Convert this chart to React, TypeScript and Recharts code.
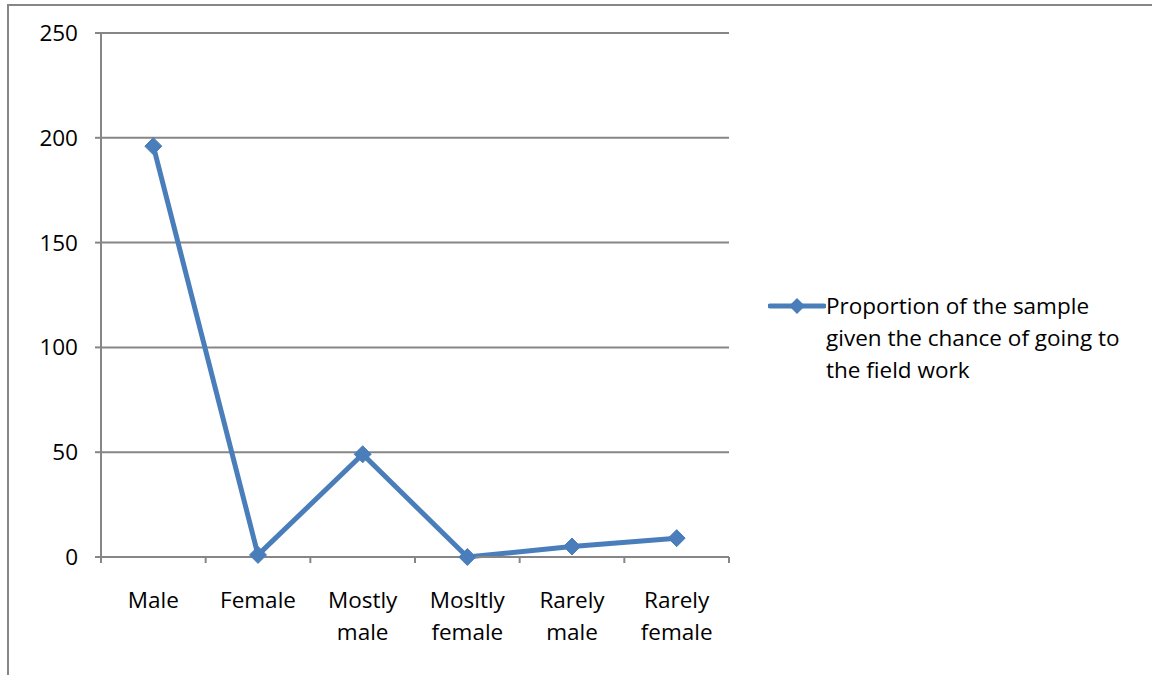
import { LineChart, Line, XAxis, YAxis, CartesianGrid, Legend } from 'recharts'

const categories = ['Male', 'Female', 'Mostly male', 'Mosltly female', 'Rarely male', 'Rarely female']
const values = [196, 1, 49, 0, 5, 9]
const yTicks = [0, 50, 100, 150, 200, 250]
const seriesName = 'Proportion of the sample given the chance of going to the field work'
const legendLines = ['Proportion of the sample', 'given the chance of going to', 'the field work']

const data = categories.map((c, i) => ({ category: c, value: values[i] }))

const BLUE = '#4a7ebb'
const GREY = '#868686'
const FONT = '"Open Sans", Lato, sans-serif'
const FS = 22.5

const Diamond = (props: any) => {
  const { cx, cy } = props
  if (cx == null || cy == null) return null
  const r = 8.5
  return (
    <polygon
      points={`${cx},${cy - r} ${cx + r},${cy} ${cx},${cy + r} ${cx - r},${cy}`}
      fill={BLUE}
      stroke={BLUE}
      strokeWidth={1}
    />
  )
}

const CategoryTick = (props: any) => {
  const { x, y, payload, index } = props
  const half = 628 / categories.length / 2
  const words = String(payload.value).split(' ')
  return (
    <g>
      <line x1={x - half} y1={y} x2={x - half} y2={y + 6} stroke={GREY} strokeWidth={2} />
      {index === categories.length - 1 && (
        <line x1={x + half} y1={y} x2={x + half} y2={y + 6} stroke={GREY} strokeWidth={2} />
      )}
      {words.map((w, i) => (
        <text
          key={i}
          x={x}
          y={y + 51 + i * 32}
          textAnchor="middle"
          fill="#000"
          fontSize={FS}
          fontFamily={FONT}
        >
          {w}
        </text>
      ))}
    </g>
  )
}

const LegendBox = () => (
  <div style={{ display: 'flex', alignItems: 'flex-start', fontFamily: FONT, fontSize: FS, color: '#000' }}>
    <svg width={58} height={32} style={{ flex: 'none' }}>
      <line x1={2} y1={16} x2={56} y2={16} stroke={BLUE} strokeWidth={5} strokeLinecap="round" />
      <polygon points="29,8 37,16 29,24 21,16" fill={BLUE} />
    </svg>
    <div style={{ lineHeight: '32px', whiteSpace: 'nowrap' }}>
      {legendLines.map((l, i) => (
        <div key={i}>{l}</div>
      ))}
    </div>
  </div>
)

export default function App() {
  return (
    <div style={{ position: 'absolute', left: 0, top: 0, width: 1152, height: 675, background: '#fff', overflow: 'hidden' }}>
      <div
        style={{
          position: 'absolute',
          left: 7,
          top: 4,
          width: 1200,
          height: 700,
          borderLeft: `2px solid ${GREY}`,
          borderTop: `2px solid ${GREY}`,
        }}
      />
      <div style={{ position: 'absolute', left: 0, top: 0 }}>
        <LineChart width={1152} height={675} data={data} margin={{ top: 33, right: 423, bottom: 18, left: 0 }}>
          <CartesianGrid vertical={false} stroke={GREY} strokeWidth={2} />
          <XAxis
            dataKey="category"
            scale="band"
            interval={0}
            height={100}
            stroke={GREY}
            strokeWidth={2}
            tickLine={false}
            tickSize={0}
            tickMargin={0}
            tick={<CategoryTick />}
          />
          <YAxis
            domain={[0, 250]}
            ticks={yTicks}
            width={101}
            stroke={GREY}
            strokeWidth={2}
            tickSize={6}
            tickMargin={17}
            tick={{ fill: '#000', fontSize: FS, fontFamily: FONT }}
          />
          <Legend
            name={seriesName}
            layout="horizontal"
            verticalAlign="middle"
            content={<LegendBox />}
            wrapperStyle={{ left: 768, top: 290, width: 384 }}
          />
          <Line
            type="linear"
            dataKey="value"
            name={seriesName}
            stroke={BLUE}
            strokeWidth={5}
            dot={<Diamond />}
            activeDot={false}
            isAnimationActive={false}
          />
        </LineChart>
      </div>
    </div>
  )
}
